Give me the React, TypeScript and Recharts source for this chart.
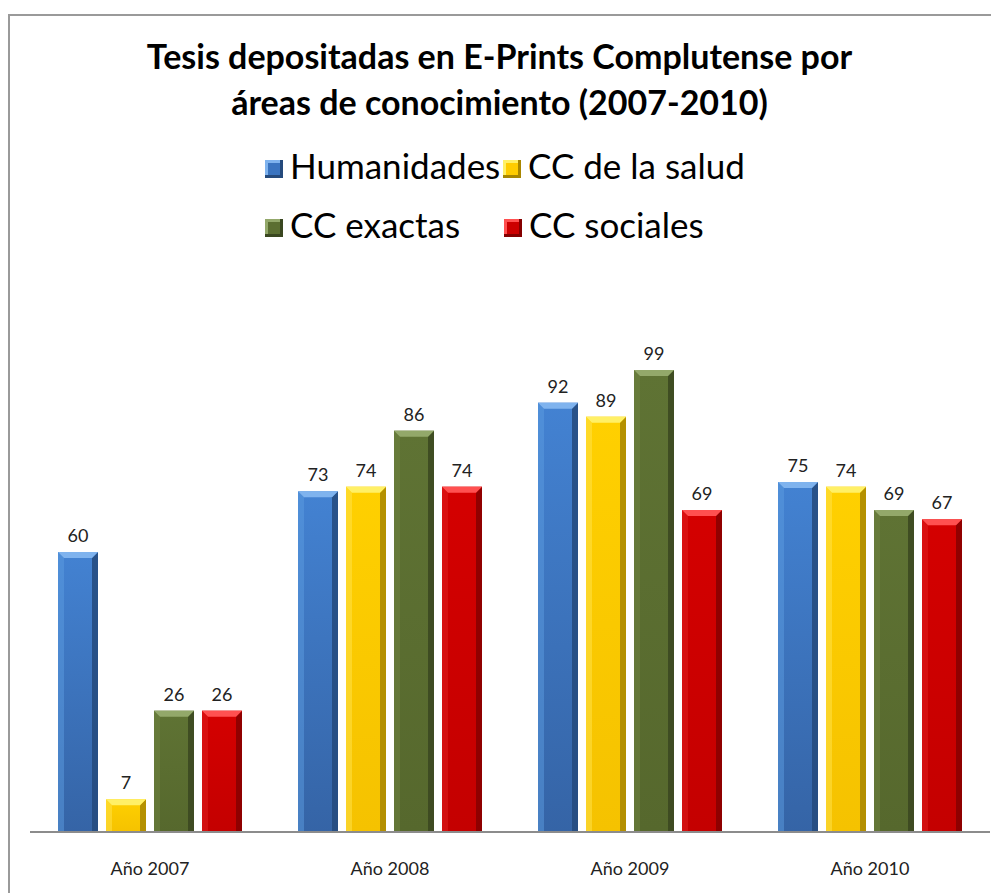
import React from "react";
import { BarChart, Bar, XAxis, YAxis, Legend, LabelList } from "recharts";

const categories = ["Año 2007", "Año 2008", "Año 2009", "Año 2010"];
const humanidades = [60, 73, 92, 75];
const ccSalud = [7, 74, 89, 74];
const ccExactas = [26, 86, 99, 69];
const ccSociales = [26, 74, 69, 67];

const seriesNames = ["Humanidades", "CC de la salud", "CC exactas", "CC sociales"];

const data = categories.map((c, i) => ({
  year: c,
  hum: humanidades[i],
  salud: ccSalud[i],
  exactas: ccExactas[i],
  sociales: ccSociales[i],
}));

const palette: any = {
  hum: { top: "#4382d2", base: "#3a74c0", bottom: "#3564a6", light: "#5c9be0", dark: "#254a7c", cap: "#7fb3ee" },
  salud: { top: "#ffd000", base: "#ffcc00", bottom: "#f5c200", light: "#ffe44d", dark: "#a88600", cap: "#fff066" },
  exactas: { top: "#5f7334", base: "#5b6e31", bottom: "#56682d", light: "#6f8442", dark: "#3a4720", cap: "#93a86a" },
  sociales: { top: "#d40000", base: "#cc0000", bottom: "#c40000", light: "#e02020", dark: "#850000", cap: "#ff5050" },
};

const BevelBar = (props: any) => {
  const { x, y, width, height, colorKey } = props;
  if (!height || height <= 0) return null;
  const c = palette[colorKey];
  const b = Math.min(6, height / 2, width / 4);
  const gid = "grad-" + colorKey;
  return (
    <g>
      <defs>
        <linearGradient id={gid} x1="0" y1="0" x2="0" y2="1">
          <stop offset="0%" stopColor={c.top} />
          <stop offset="100%" stopColor={c.bottom} />
        </linearGradient>
      </defs>
      <rect x={x} y={y} width={width} height={height} fill={`url(#${gid})`} />
      <polygon
        points={`${x},${y} ${x + b},${y + b} ${x + b},${y + height} ${x},${y + height}`}
        fill={c.light}
        opacity={0.5}
      />
      <polygon
        points={`${x + width},${y} ${x + width - b},${y + b} ${x + width - b},${y + height} ${x + width},${y + height}`}
        fill={c.dark}
        opacity={0.85}
      />
      <polygon
        points={`${x},${y} ${x + width},${y} ${x + width - b},${y + b} ${x + b},${y + b}`}
        fill={c.cap}
      />
    </g>
  );
};

const keys = ["hum", "salud", "exactas", "sociales"];

const CustomLegend = () => {
  const cells = [
    { k: "hum", left: 255, row: 0 },
    { k: "salud", left: 493, row: 0 },
    { k: "exactas", left: 255, row: 1 },
    { k: "sociales", left: 494, row: 1 },
  ];
  return (
    <div style={{ position: "relative", width: 989, height: 136 }}>
      {cells.map((cell) => {
        const i = keys.indexOf(cell.k);
        const c = palette[cell.k];
        const top = cell.row * 59;
        return (
          <div key={cell.k}>
            <div
              style={{
                position: "absolute",
                left: cell.left,
                top: top + 24,
                width: 18,
                height: 18,
                background: c.base,
                boxShadow: `inset -3px -3px 0 ${c.dark}, inset 3px 3px 0 ${c.cap}`,
              }}
            />
            <div
              style={{
                position: "absolute",
                left: cell.left + 25,
                top: top,
                height: 59,
                lineHeight: "59px",
                fontSize: 35,
                color: "#000",
                whiteSpace: "nowrap",
              }}
            >
              {seriesNames[i]}
            </div>
          </div>
        );
      })}
    </div>
  );
};

export default function App() {
  return (
    <div
      style={{
        position: "relative",
        marginTop: 6,
        width: 989,
        height: 877,
        borderLeft: "2px solid #9a9a9a",
        borderTop: "2px solid #9a9a9a",
        fontFamily: "Lato, 'Liberation Sans', sans-serif",
        background: "#fff",
      }}
    >
      <div
        style={{
          position: "absolute",
          left: -5,
          top: 17,
          width: 989,
          textAlign: "center",
          fontSize: 34,
          fontWeight: 700,
          lineHeight: "46px",
          color: "#000",
          zIndex: 2,
        }}
      >
        Tesis depositadas en E-Prints Complutense por
        <br />
        áreas de conocimiento (2007-2010)
      </div>
      <BarChart
        width={989}
        height={877}
        data={data}
        margin={{ top: 120, right: 9, left: 20, bottom: 11 }}
        barCategoryGap={28}
        barGap={8}
      >
        <XAxis
          dataKey="year"
          height={50}
          tickLine={false}
          tickSize={0}
          tickMargin={30}
          axisLine={{ stroke: "#8c8c8c", strokeWidth: 2 }}
          tick={{ fill: "#222", fontSize: 18, fontFamily: "Lato, sans-serif" }}
        />
        <YAxis hide domain={[0, 120]} />
        <Legend
          verticalAlign="top"
          content={() => <CustomLegend />}
          wrapperStyle={{ top: 120, left: 0, width: 989, height: 136 }}
        />
        {keys.map((k, i) => (
          <Bar
            key={k}
            dataKey={k}
            name={seriesNames[i]}
            fill={palette[k].base}
            isAnimationActive={false}
            shape={(p: any) => <BevelBar {...p} colorKey={k} />}
          >
            <LabelList
              dataKey={k}
              position="top"
              offset={10}
              style={{ fill: "#222", fontSize: 18, fontFamily: "Lato, sans-serif" }}
            />
          </Bar>
        ))}
      </BarChart>
    </div>
  );
}
